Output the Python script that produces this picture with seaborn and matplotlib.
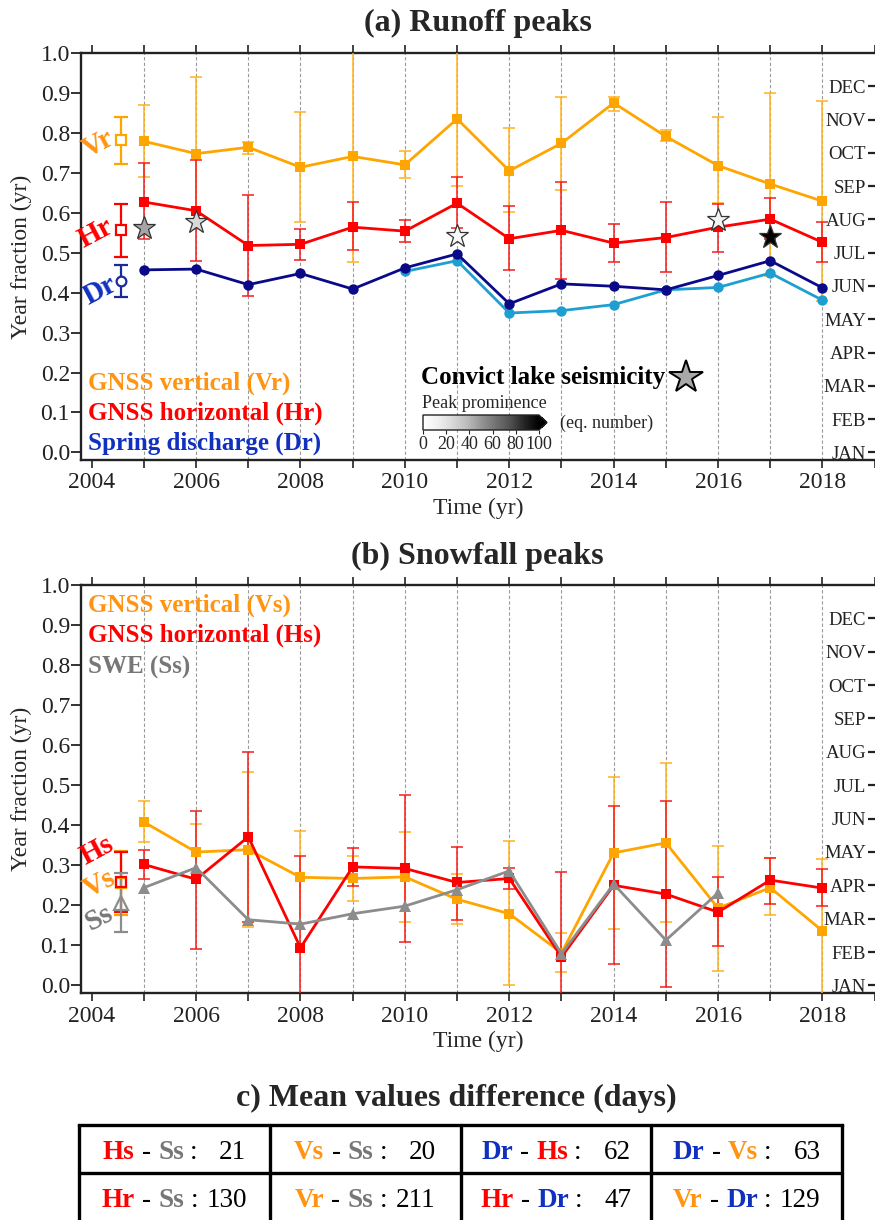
import numpy as np
import pandas as pd
import seaborn as sns
import matplotlib
matplotlib.use("Agg")
import matplotlib.pyplot as plt
from matplotlib import colors as mcolors, cm

# ---------------- data ----------------
years = list(range(2005, 2019))
vr = [0.779, 0.748, 0.764, 0.714, 0.741, 0.720, 0.835, 0.705, 0.774, 0.875, 0.791, 0.718, 0.672, 0.629]
vr_hi = [0.870, 0.940, 0.777, 0.852, 1.050, 0.755, 1.050, 0.812, 0.891, 0.891, 0.808, 0.839, 0.901, 0.879]
vr_lo = [0.690, 0.560, 0.747, 0.576, 0.476, 0.687, 0.666, 0.603, 0.656, 0.856, 0.779, 0.625, 0.441, 0.380]
hr = [0.627, 0.605, 0.518, 0.521, 0.564, 0.554, 0.624, 0.535, 0.556, 0.524, 0.538, 0.564, 0.584, 0.526]
hr_hi = [0.725, 0.731, 0.644, 0.560, 0.626, 0.583, 0.689, 0.616, 0.676, 0.573, 0.626, 0.622, 0.637, 0.576]
hr_lo = [0.534, 0.480, 0.392, 0.482, 0.506, 0.526, 0.562, 0.456, 0.435, 0.476, 0.451, 0.503, 0.535, 0.476]
dr = [0.457, 0.459, 0.420, 0.448, 0.409, 0.462, 0.497, 0.372, 0.422, 0.416, 0.407, 0.443, 0.480, 0.412]
dr2_years = list(range(2010, 2019))
dr2 = [0.453, 0.480, 0.349, 0.355, 0.370, 0.407, 0.413, 0.449, 0.381]

mean_x = 2004.57
vr_mean, vr_mean_lo, vr_mean_hi = 0.781, 0.723, 0.840
hr_mean, hr_mean_lo, hr_mean_hi = 0.558, 0.489, 0.622
dr_mean, dr_mean_lo, dr_mean_hi = 0.430, 0.389, 0.469

quake_years = [2005, 2006, 2011, 2016, 2017]
quake_y = [0.562, 0.576, 0.541, 0.583, 0.539]
quake_prom = [45, 25, 5, 10, 100]

vs = [0.408, 0.333, 0.339, 0.270, 0.267, 0.271, 0.215, 0.179, 0.081, 0.331, 0.356, 0.193, 0.244, 0.136]
vs_hi = [0.461, 0.402, 0.533, 0.386, 0.323, 0.383, 0.277, 0.361, 0.131, 0.521, 0.556, 0.347, 0.318, 0.315]
vs_lo = [0.357, 0.270, 0.146, 0.155, 0.211, 0.158, 0.153, 0.000, 0.033, 0.142, 0.158, 0.037, 0.175, -0.030]
hs = [0.302, 0.265, 0.371, 0.094, 0.296, 0.292, 0.257, 0.267, 0.071, 0.250, 0.228, 0.183, 0.263, 0.243]
hs_hi = [0.339, 0.436, 0.582, 0.322, 0.344, 0.475, 0.346, 0.294, 0.283, 0.448, 0.460, 0.271, 0.319, 0.290]
hs_lo = [0.265, 0.092, 0.158, -0.030, 0.248, 0.108, 0.164, 0.240, -0.030, 0.054, -0.004, 0.098, 0.204, 0.198]
ss_years = list(range(2005, 2017))
ss = [0.244, 0.294, 0.164, 0.153, 0.179, 0.198, 0.239, 0.286, 0.079, 0.253, 0.113, 0.231]

hs_mean, hs_mean_lo, hs_mean_hi = 0.258, 0.183, 0.333
vs_mean, vs_mean_lo, vs_mean_hi = 0.256, 0.175, 0.336
ss_mean, ss_mean_lo, ss_mean_hi = 0.207, 0.133, 0.281

months = ["JAN", "FEB", "MAR", "APR", "MAY", "JUN", "JUL", "AUG", "SEP", "OCT", "NOV", "DEC"]
cbar_ticks = [0, 20, 40, 60, 80, 100]

table_rows = [
    [("Hs", "Ss", "21"), ("Vs", "Ss", "20"), ("Dr", "Hs", "62"), ("Dr", "Vs", "63")],
    [("Hr", "Ss", "130"), ("Vr", "Ss", "211"), ("Hr", "Dr", "47"), ("Vr", "Dr", "129")],
]

# ---------------- style ----------------
ORANGE = "#FFA500"
ORANGE_T = "#FF9412"
RED = "#FF0000"
NAVY = "#0A0A88"
CYAN = "#1E9FD2"
BLUE_T = "#1030C0"
GRAY = "#8C8C8C"
GRAY_T = "#777777"
letter_color = {"H": RED, "V": ORANGE_T, "D": BLUE_T, "S": GRAY_T}

sns.set_theme(style="ticks")
plt.rcParams["font.family"] = ["Liberation Serif", "DejaVu Serif"]
plt.rcParams["axes.edgecolor"] = "#222222"

W, H = 875, 1220
fig = plt.figure(figsize=(W / 100, H / 100), dpi=100)

ax_a = fig.add_axes([81 / W, 1 - 460 / H, 1 - 81 / W, 407 / H])
ax_b = fig.add_axes([81 / W, 1 - 993 / H, 1 - 81 / W, 408 / H])

YLIM = (-0.019, 1.0)
XLIM = (2003.795, 2019.006)


def style_axes(ax):
    ax.set_xlim(*XLIM)
    ax.set_ylim(*YLIM)
    for yr in years:
        ax.axvline(yr, color="#9a9a9a", lw=0.8, ls=(0, (3, 2)), zorder=0)
    ax.set_xticks(list(range(2004, 2020)))
    ax.set_xticklabels([str(y) if y % 2 == 0 and y < 2019 else "" for y in range(2004, 2020)])
    ax.set_yticks(np.round(np.arange(0, 1.01, 0.1), 1))
    ax.set_yticklabels([f"{v:.1f}" for v in np.arange(0, 1.01, 0.1)])
    ax.tick_params(axis="x", which="major", direction="out", length=6, width=1.2,
                   top=True, labeltop=False, labelsize=17, pad=3, colors="#222222")
    ax.tick_params(axis="y", direction="out", length=7, width=1.3, labelsize=17, pad=1,
                   colors="#222222")
    for s in ["left", "top", "bottom"]:
        ax.spines[s].set_linewidth(1.7)
    ax.spines["right"].set_visible(False)
    ax.set_xlabel("Time (yr)", fontsize=17, labelpad=3)
    ax.set_ylabel("Year fraction (yr)", fontsize=17, labelpad=6)
    ax.grid(False)
    tw = ax.twinx()
    tw.set_ylim(*YLIM)
    tw.set_yticks([i / 12 for i in range(12)])
    tw.set_yticklabels(months, ha="right")
    tw.tick_params(axis="y", direction="in", length=5, width=1.6, pad=-6.5, labelsize=13.5,
                   colors="#222222")
    for s in tw.spines.values():
        s.set_visible(False)
    tw.grid(False)


def err(ax, x, y, lo, hi, color, lw=1.1, cap=4.5, z=3):
    y = np.asarray(y)
    ax.errorbar(x, y, yerr=[y - np.asarray(lo), np.asarray(hi) - y], fmt="none",
                ecolor=color, elinewidth=lw, capsize=cap, capthick=lw, zorder=z)


# ---------------- panel (a) ----------------
ax = ax_a
style_axes(ax)
err(ax, years, vr, vr_lo, vr_hi, "#FFB21E")
err(ax, years, hr, hr_lo, hr_hi, "#F51C1C")
sns.lineplot(x=years, y=vr, ax=ax, color=ORANGE, marker="s", markersize=6.5,
             markeredgewidth=0, linewidth=2.0, zorder=4)
sns.lineplot(x=years, y=hr, ax=ax, color=RED, marker="s", markersize=6.5,
             markeredgewidth=0, linewidth=2.0, zorder=4)
sns.lineplot(x=dr2_years, y=dr2, ax=ax, color=CYAN, marker="o", markersize=7.5,
             markeredgewidth=0, linewidth=2.0, zorder=4)
sns.lineplot(x=years, y=dr, ax=ax, color=NAVY, marker="o", markersize=7.5,
             markeredgewidth=0, linewidth=2.0, zorder=5)

for m, lo, hi, c, mk in [(vr_mean, vr_mean_lo, vr_mean_hi, ORANGE, "s"),
                         (hr_mean, hr_mean_lo, hr_mean_hi, RED, "s"),
                         (dr_mean, dr_mean_lo, dr_mean_hi, "#1a2a9a", "o")]:
    ax.errorbar([mean_x], [m], yerr=[[m - lo], [hi - m]], fmt=mk, mfc="white", mec=c,
                ecolor=c, ms=7, mew=1.6, elinewidth=1.6, capsize=5, capthick=1.6, zorder=5)

cmap = plt.get_cmap("Greys")
norm = mcolors.Normalize(0, 100)
for x, y, p in zip(quake_years, quake_y, quake_prom):
    ax.plot([x], [y], marker="*", ms=17, mfc=cmap(norm(p)), mec="#333333", mew=0.9,
            ls="none", zorder=6)

ax.text(2004.12, 0.772, "Vr", color=ORANGE_T, fontsize=21, fontweight="bold",
        rotation=28, ha="center", va="center")
ax.text(2004.08, 0.548, "Hr", color=RED, fontsize=21, fontweight="bold",
        rotation=28, ha="center", va="center")
ax.text(2004.16, 0.405, "Dr", color=BLUE_T, fontsize=21, fontweight="bold",
        rotation=28, ha="center", va="center")

for txt, c, yy in [("GNSS vertical (Vr)", ORANGE_T, 0.189),
                   ("GNSS horizontal (Hr)", RED, 0.115),
                   ("Spring discharge (Dr)", BLUE_T, 0.041)]:
    ax.text(0.009, yy, txt, color=c, fontsize=18, fontweight="bold",
            transform=ax.transAxes, ha="left", va="center")

ax.text(0.428, 0.2015, "Convict lake seismicity", fontsize=18, fontweight="bold",
        transform=ax.transAxes, ha="left", va="center", color="black")
ax.plot([0.762], [0.204], marker="*", ms=25, mfc="#a8a8a8", mec="black", mew=1.4,
        transform=ax.transAxes, clip_on=False, zorder=7)
ax.text(0.4295, 0.140, "Peak prominence", fontsize=13, transform=ax.transAxes,
        ha="left", va="center")
ax.text(0.603, 0.091, "(eq. number)", fontsize=13, transform=ax.transAxes,
        ha="left", va="center")

cax = fig.add_axes([423 / W, 1 - 430 / H, 124 / W, 15 / H])
cb = fig.colorbar(cm.ScalarMappable(norm=norm, cmap=cmap), cax=cax,
                  orientation="horizontal", extend="max", extendfrac=0.07)
cb.set_ticks(cbar_ticks)
cb.ax.tick_params(labelsize=13, length=3, width=0.8, pad=1)
cb.outline.set_linewidth(1.0)

# ---------------- panel (b) ----------------
ax = ax_b
style_axes(ax)
err(ax, years, vs, vs_lo, vs_hi, "#FFB21E")
err(ax, years, hs, hs_lo, hs_hi, "#F51C1C")
sns.lineplot(x=years, y=vs, ax=ax, color=ORANGE, marker="s", markersize=6.5,
             markeredgewidth=0, linewidth=2.0, zorder=4)
sns.lineplot(x=years, y=hs, ax=ax, color=RED, marker="s", markersize=6.5,
             markeredgewidth=0, linewidth=2.0, zorder=4)
sns.lineplot(x=ss_years, y=ss, ax=ax, color=GRAY, marker="^", markersize=8.5,
             markeredgewidth=0, linewidth=2.0, zorder=5)

for m, lo, hi, c, mk, ms in [(vs_mean, vs_mean_lo, vs_mean_hi, ORANGE, "s", 7),
                             (hs_mean, hs_mean_lo, hs_mean_hi, RED, "s", 7),
                             (ss_mean, ss_mean_lo, ss_mean_hi, GRAY, "^", 10)]:
    ax.errorbar([mean_x], [m], yerr=[[m - lo], [hi - m]], fmt=mk, mfc="none", mec=c,
                ecolor=c, ms=ms, mew=1.6, elinewidth=1.6, capsize=5, capthick=1.6, zorder=5)

ax.text(2004.10, 0.338, "Hs", color=RED, fontsize=21, fontweight="bold",
        rotation=28, ha="center", va="center")
ax.text(2004.14, 0.255, "Vs", color=ORANGE_T, fontsize=21, fontweight="bold",
        rotation=28, ha="center", va="center")
ax.text(2004.14, 0.168, "Ss", color=GRAY_T, fontsize=21, fontweight="bold",
        rotation=28, ha="center", va="center")

for txt, c, yy in [("GNSS vertical (Vs)", ORANGE_T, 0.951),
                   ("GNSS horizontal (Hs)", RED, 0.877),
                   ("SWE (Ss)", GRAY_T, 0.799)]:
    ax.text(0.009, yy, txt, color=c, fontsize=18, fontweight="bold",
            transform=ax.transAxes, ha="left", va="center")

# ---------------- titles ----------------
fig.text(0.546, 1 - 23 / H, "(a) Runoff peaks", ha="center", va="center",
         fontsize=23, fontweight="bold")
fig.text(0.546, 1 - 556 / H, "(b) Snowfall peaks", ha="center", va="center",
         fontsize=23, fontweight="bold")
fig.text(0.522, 1 - 1098 / H, "c) Mean values difference (days)", ha="center",
         va="center", fontsize=23, fontweight="bold")

# ---------------- table (c) ----------------
tab = fig.add_axes([79 / W, 0, (842 - 79) / W, 1 - 1125 / H])
tab.set_xlim(0, 1)
tab.set_ylim(0, 1)
tab.axis("off")
LW = 2.4
tab.plot([0, 1], [1, 1], color="black", lw=LW, clip_on=False, solid_capstyle="projecting")
tab.plot([0, 1], [0.495, 0.495], color="black", lw=LW, clip_on=False)
for xx in [0, 0.25, 0.5, 0.75, 1.0]:
    tab.plot([xx, xx], [-0.05, 1], color="black", lw=LW, clip_on=False)

FS = 19.5
row_base = [0.645, 0.142]
groups = []
for r, row in enumerate(table_rows):
    for c, (a, b, num) in enumerate(row):
        xc = 0.125 + 0.25 * c
        y = row_base[r]
        pieces = [(a, letter_color[a[0]], "bold"), ("-", "black", "normal"),
                  (b, letter_color[b[0]], "bold"), (":", "black", "normal")]
        objs = [tab.text(xc, y, s, color=col, fontweight=wt, fontsize=FS, ha="left",
                         va="baseline", transform=tab.transAxes) for s, col, wt in pieces]
        ntxt = tab.text(xc, y, num, color="black", fontsize=FS, ha="right",
                        va="baseline", transform=tab.transAxes)
        groups.append((xc, y, objs, ntxt))

fig.canvas.draw()
renderer = fig.canvas.get_renderer()
px_per_pt = fig.dpi / 72.0
em = FS * px_per_pt
gaps = [0.27 * em, 0.27 * em, 0.22 * em]
num_field = 1.5 * em
num_gap = 0.3 * em
inv = tab.transAxes.inverted()
for xc, y, objs, ntxt in groups:
    widths = [o.get_window_extent(renderer).width for o in objs]
    total = sum(widths) + sum(gaps) + num_gap + num_field
    cx = tab.transAxes.transform((xc, y))
    x = cx[0] - total / 2
    for i, o in enumerate(objs):
        o.set_position((inv.transform((x, cx[1]))[0], y))
        x += widths[i] + (gaps[i] if i < len(gaps) else 0)
    x += num_gap + num_field
    ntxt.set_position((inv.transform((x, cx[1]))[0], y))

fig.savefig("out.png", dpi=100)
